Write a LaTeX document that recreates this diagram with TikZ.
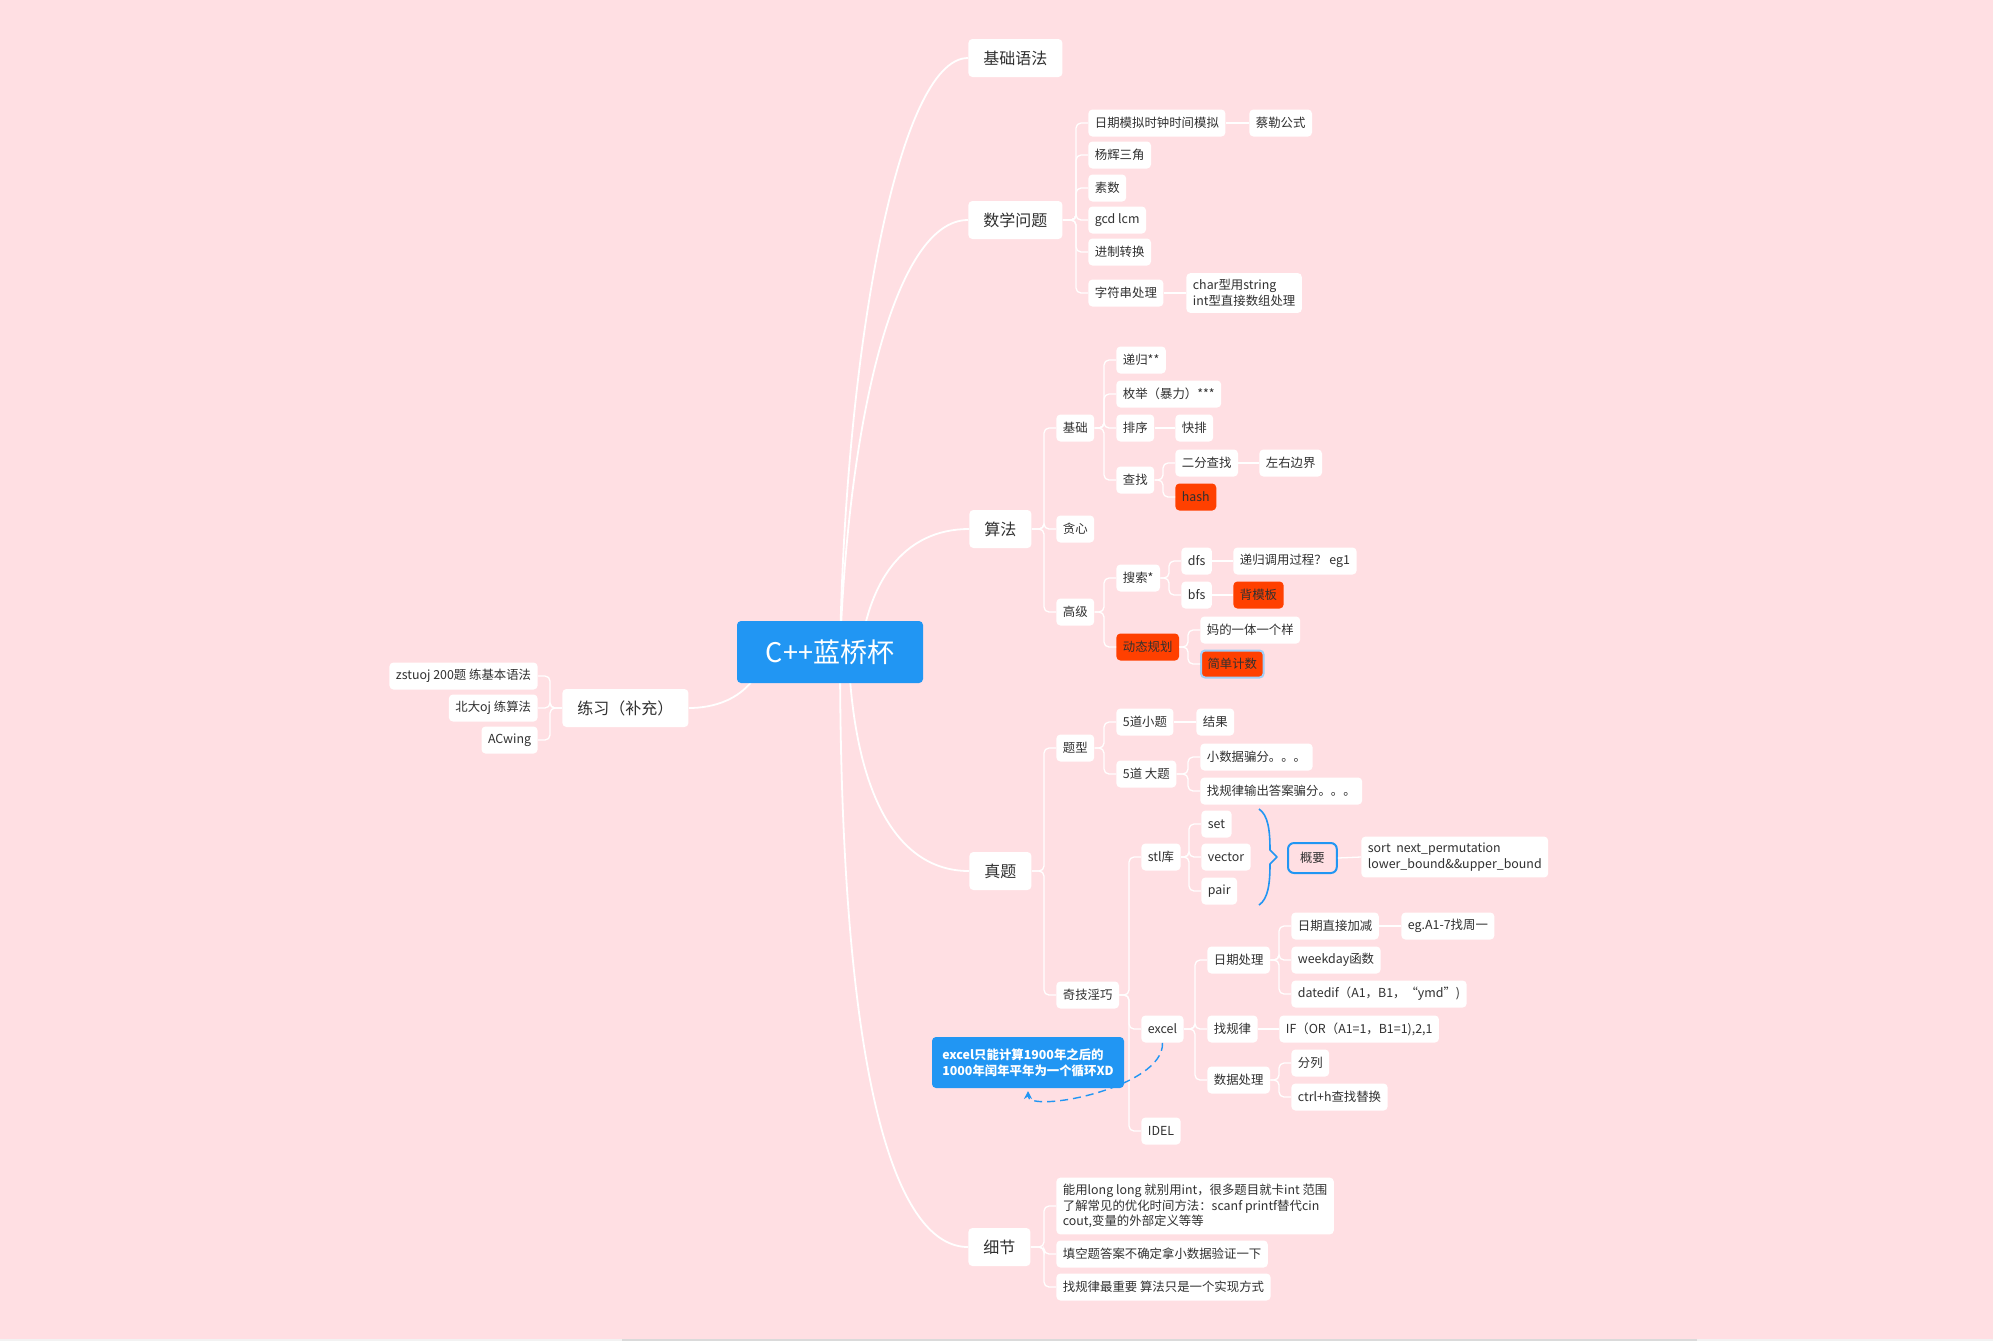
\documentclass[tikz,border=0pt]{standalone}
\usepackage{fontspec}
\setmainfont{Noto Sans CJK SC}
\usetikzlibrary{calc,arrows.meta}
\definecolor{mapbg}{RGB}{255,223,227}
\definecolor{rootblue}{RGB}{33,150,243}
\definecolor{hotred}{RGB}{255,64,0}
\definecolor{ink}{RGB}{48,48,48}
\definecolor{selblue}{RGB}{160,206,246}
\definecolor{barbg}{RGB}{242,242,242}
\definecolor{bargrey}{RGB}{218,218,218}
\tikzset{
  box/.style={fill=white, text=ink, rounded corners=2pt, inner ysep=0pt},
  topic/.style={box, anchor=west, minimum height=19pt, inner xsep=7.5pt,
    font=\fontsize{8}{9.6}\selectfont},
  sub/.style={box, anchor=west, minimum height=13.5pt, inner xsep=3.25pt,
    font=\fontsize{6.2}{7.8}\selectfont},
  subwrap/.style={sub, align=left, inner ysep=3.2pt},
  hot/.style={sub, fill=hotred},
  picked/.style={hot, draw=selblue, line width=1pt},
  summary/.style={sub, fill=mapbg, draw=rootblue, line width=1pt,
    rounded corners=3pt, minimum height=15pt, inner xsep=6pt},
  rootbox/.style={fill=rootblue, text=white, rounded corners=2pt,
    minimum width=93pt, minimum height=31pt,
    font=\fontsize{13.5}{16}\selectfont},
  tipbox/.style={fill=rootblue, text=white, rounded corners=2pt, align=left,
    minimum width=96pt, minimum height=25.5pt,
    font=\fontsize{6.2}{7.85}\selectfont\bfseries},
  trunk/.style={draw=white, line width=0.9pt},
  link/.style={draw=white, line width=0.65pt, rounded corners=2.5pt},
  bracket/.style={draw=rootblue, line width=0.8pt, line join=round},
  dashlink/.style={draw=rootblue, line width=0.7pt,
    dash pattern=on 4pt off 2.5pt, -{Stealth[length=4pt,width=4pt]}}
}
% links from a parent to the children on its right
\newcommand{\kidlinks}[2]{
  \foreach \kid in {#2}
    \draw[link] (#1.east) -| ([xshift=-6pt]\kid.west) -- (\kid.west);
}

\begin{document}
\begin{tikzpicture}[x=0.5pt, y=-0.5pt]
  \fill[mapbg] (0,0) rectangle (1993,1341);
  \useasboundingbox (0,0) rectangle (1993,1341);

  % --- Main topics ---
  \node[topic] (syn) at (968,58) {基础语法};
  \node[topic] (math) at (968,220) {数学问题};
  \node[topic] (algo) at (969,529) {算法};
  \node[topic] (real) at (969,871) {真题};
  \node[topic] (detail) at (968,1247) {细节};
  \node[topic] (prac) at (562,708) {练习（补充）};

  % --- 数学问题 ---
  \node[sub] (m1) at (1088,123) {日期模拟时钟时间模拟};
  \node[sub] (m1a) at (1249,123) {蔡勒公式};
  \node[sub] (m2) at (1088,155) {杨辉三角};
  \node[sub] (m3) at (1088,188) {素数};
  \node[sub] (m4) at (1088,220) {gcd lcm};
  \node[sub] (m5) at (1088,252) {进制转换};
  \node[sub] (m6) at (1088,293) {字符串处理};
  \node[subwrap] (m6a) at (1186,293) {char型用string\\int型直接数组处理};

  % --- 算法 ---
  \node[sub] (basic) at (1056,428) {基础};
  \node[sub] (greedy) at (1056,529) {贪心};
  \node[sub] (adv) at (1056,612) {高级};
  \node[sub] (rec) at (1116,360) {递归**};
  \node[sub] (enum) at (1116,394) {枚举（暴力）***};
  \node[sub] (sort) at (1116,428) {排序};
  \node[sub] (quick) at (1175,428) {快排};
  \node[sub] (find) at (1116,480) {查找};
  \node[sub] (bin) at (1175,463) {二分查找};
  \node[sub] (bound) at (1259,463) {左右边界};
  \node[hot] (hash) at (1175,497) {hash};
  \node[sub] (search) at (1116,578) {搜索*};
  \node[sub] (dfs) at (1181,561) {dfs};
  \node[sub] (dfsnote) at (1233,561) {递归调用过程？ eg1};
  \node[sub] (bfs) at (1181,595) {bfs};
  \node[hot] (bfsnote) at (1233,595) {背模板};
  \node[hot] (dp) at (1116,647) {动态规划};
  \node[sub] (dpnote) at (1200,630) {妈的一体一个样};
  \node[picked] (dpcount) at (1200,664) {简单计数};

  % --- 真题 ---
  \node[sub] (kind) at (1056,748) {题型};
  \node[sub] (small5) at (1116,722) {5道小题};
  \node[sub] (result) at (1196,722) {结果};
  \node[sub] (big5) at (1116,774) {5道 大题};
  \node[sub] (bigA) at (1200,757) {小数据骗分。。。};
  \node[sub] (bigB) at (1200,791) {找规律输出答案骗分。。。};
  \node[sub] (trick) at (1056,995) {奇技淫巧};
  \node[sub] (stl) at (1141,857) {stl库};
  \node[sub] (set) at (1201,824) {set};
  \node[sub] (vec) at (1201,857) {vector};
  \node[sub] (pair) at (1201,891) {pair};
  \node[summary] (summ) at (1287,858) {概要};
  \node[subwrap] (stlnote) at (1361,857)
    {sort\ \ next\_permutation\\lower\_bound\&\&upper\_bound};
  \node[sub] (excel) at (1141,1029) {excel};
  \node[sub] (date) at (1207,960) {日期处理};
  \node[sub] (dateadd) at (1291,926) {日期直接加减};
  \node[sub] (dateaddnote) at (1401,926) {eg.A1-7找周一};
  \node[sub] (weekday) at (1291,960) {weekday函数};
  \node[sub] (datedif) at (1291,994) {datedif（A1，B1，“ymd")};
  \node[sub] (rule) at (1207,1029) {找规律};
  \node[sub] (rulenote) at (1279,1029) {IF（OR（A1=1，B1=1),2,1};
  \node[sub] (data) at (1207,1080) {数据处理};
  \node[sub] (split) at (1291,1063) {分列};
  \node[sub] (ctrlh) at (1291,1097) {ctrl+h查找替换};
  \node[sub] (idel) at (1141,1131) {IDEL};

  % --- 细节 ---
  \node[subwrap] (det1) at (1056,1206)
    {能用long long 就别用int，很多题目就卡int 范围\\了解常见的优化时间方法：scanf printf替代cin\\cout,变量的外部定义等等};
  \node[sub] (det2) at (1056,1254) {填空题答案不确定拿小数据验证一下};
  \node[sub] (det3) at (1056,1287) {找规律最重要 算法只是一个实现方式};

  % --- 练习 (left side) ---
  \node[sub, anchor=east] (zst) at (538,676) {zstuoj 200题 练基本语法};
  \node[sub, anchor=east] (pku) at (538,708) {北大oj 练算法};
  \node[sub, anchor=east] (acw) at (538,740) {ACwing};

  % --- Trunks out of the root ---
  \coordinate (hub) at (840,652);
  \coordinate (hubup) at (858,680);
  \coordinate (hubdn) at (848,640);
  \coordinate (hubl) at (760,668);
  \draw[trunk] (hub) .. controls +(5,-300) and +(-70,0) .. (syn.west);
  \draw[trunk] (hub) .. controls +(8,-232) and +(-73,0) .. (math.west);
  \draw[trunk] (hubup) .. controls +(4,-100) and +(-64,0) .. (algo.west);
  \draw[trunk] (hubdn) .. controls +(4,160) and +(-69,0) .. (real.west);
  \draw[trunk] (hub) .. controls +(0,448) and +(-68,0) .. (detail.west);
  \draw[trunk] (hubl) .. controls +(-15,32) and +(24,0) .. (prac.east);

  % --- Tree links ---
  \kidlinks{math}{m1,m2,m3,m4,m5,m6}
  \draw[link] (m1.east) -- (m1a.west);
  \draw[link] (m6.east) -- (m6a.west);
  \kidlinks{algo}{basic,greedy,adv}
  \kidlinks{basic}{rec,enum,sort,find}
  \draw[link] (sort.east) -- (quick.west);
  \kidlinks{find}{bin,hash}
  \draw[link] (bin.east) -- (bound.west);
  \kidlinks{adv}{search,dp}
  \kidlinks{search}{dfs,bfs}
  \draw[link] (dfs.east) -- (dfsnote.west);
  \draw[link] (bfs.east) -- (bfsnote.west);
  \kidlinks{dp}{dpnote,dpcount}
  \kidlinks{real}{kind,trick}
  \kidlinks{kind}{small5,big5}
  \draw[link] (small5.east) -- (result.west);
  \kidlinks{big5}{bigA,bigB}
  \kidlinks{trick}{stl,excel,idel}
  \kidlinks{stl}{set,vec,pair}
  \draw[link] (summ.east) -- (stlnote.west);
  \kidlinks{excel}{date,rule,data}
  \kidlinks{date}{dateadd,weekday,datedif}
  \draw[link] (dateadd.east) -- (dateaddnote.west);
  \draw[link] (rule.east) -- (rulenote.west);
  \kidlinks{data}{split,ctrlh}
  \kidlinks{detail}{det1,det2,det3}
  \foreach \kid in {zst,pku,acw}
    \draw[link] (prac.west) -| ([xshift=6pt]\kid.east) -- (\kid.east);

  % --- Bracket over set / vector / pair ---
  \draw[bracket] (1259,809) .. controls (1268,815) and (1270,830) .. (1270,850)
    -- (1277,857) -- (1270,864) .. controls (1270,884) and (1268,899) .. (1259,905);

  % --- Callout on excel ---
  \coordinate (tipend) at (1028,1091);
  \draw[dashlink] (excel.south) .. controls +(2,45) and +(0,23) .. (tipend);
  \node[tipbox] (tip) at (1028,1062.5)
    {excel只能计算1900年之后的\\1000年闰年平年为一个循环XD};

  % --- Root ---
  \node[rootbox] (root) at (830,652) {C++蓝桥杯};

  % scroll bar strip
  \fill[barbg] (0,1339) rectangle (1993,1341);
  \fill[bargrey] (622,1339) rectangle (1697,1341);
\end{tikzpicture}
\end{document}
